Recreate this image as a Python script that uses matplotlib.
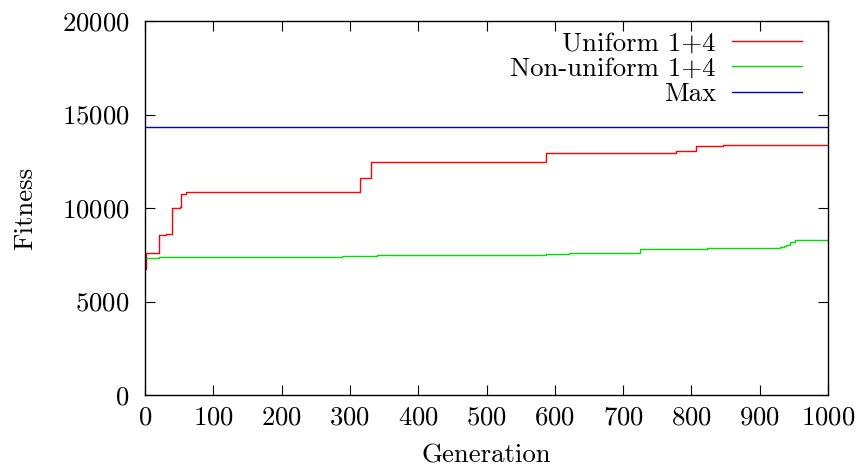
import matplotlib
matplotlib.use("Agg")
import matplotlib.pyplot as plt

# step data
uniform_gen = [0, 1, 20, 31, 40, 51, 53, 60, 311, 315, 331, 587, 778, 807, 846, 1000]
uniform_fit = [6730, 7620, 8550, 8620, 9990, 10050, 10760, 10830, 10880, 11600,
               12460, 12950, 13040, 13330, 13350, 13350]

nonuni_gen = [0, 20, 289, 340, 408, 587, 621, 725, 823, 930, 935, 939, 944, 952, 1000]
nonuni_fit = [7350, 7390, 7420, 7460, 7490, 7530, 7600, 7800, 7850, 7900, 7960,
              8030, 8170, 8290, 8290]

max_gen = [0, 1000]
max_fit = [14330, 14330]

x_ticks = list(range(0, 1001, 100))
y_ticks = [0, 5000, 10000, 15000, 20000]

plt.rcParams['font.family'] = 'cmr10'
plt.rcParams['axes.formatter.use_mathtext'] = True
fs = 19.3

fig = plt.figure(figsize=(8.64, 4.72), dpi=100)
ax = fig.add_axes([145 / 864, 1 - 395 / 472, (828 - 145) / 864, (395 - 21) / 472])

ax.plot(uniform_gen, uniform_fit, drawstyle='steps-post', color='#ff0000', lw=1.0,
        label='Uniform 1+4')
ax.plot(nonuni_gen, nonuni_fit, drawstyle='steps-post', color='#00e000', lw=1.0,
        label='Non-uniform 1+4')
ax.plot(max_gen, max_fit, color='#0000cc', lw=1.0, label='Max')

ax.set_xlim(0, 1000)
ax.set_ylim(0, 20000)
ax.set_xticks(x_ticks)
ax.set_yticks(y_ticks)
ax.tick_params(direction='in', length=7, width=0.8, top=True, right=True,
               labelsize=fs)
ax.tick_params(axis='x', pad=8)
ax.tick_params(axis='y', pad=11)
for s in ax.spines.values():
    s.set_linewidth(1.0)

ax.set_xlabel('Generation', fontsize=fs, labelpad=10)
ax.set_ylabel('Fitness', fontsize=fs, labelpad=18)

ax.legend(loc='upper right', frameon=False, markerfirst=False, fontsize=fs,
          handlelength=2.6, handletextpad=0.6, labelspacing=0.06,
          borderaxespad=0.2, bbox_to_anchor=(0.985, 1.015))

fig.savefig('out.png', dpi=100)
